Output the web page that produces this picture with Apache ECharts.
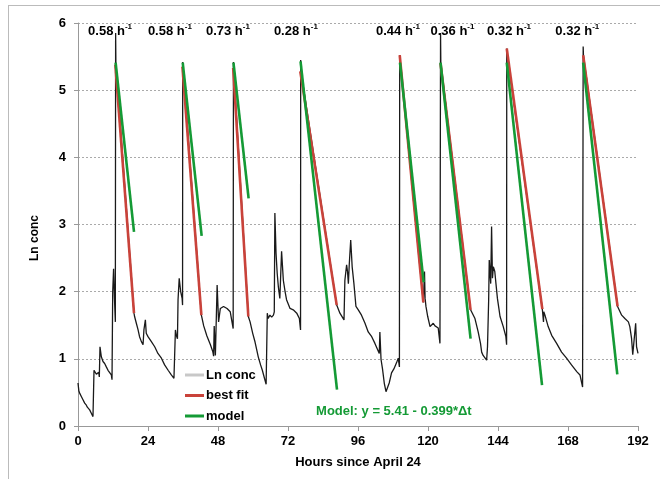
<!DOCTYPE html>
<html>
<head>
<meta charset="utf-8">
<script src="https://cdn.jsdelivr.net/npm/echarts@6/dist/echarts.min.js"></script>
<style>
	html, body { margin: 0; padding: 0; background: #fff; }
	#chart { width: 660px; height: 479px; }
</style>
</head>
<body>
<div id="chart"></div>
<script>
// Ln conc trace [hours, ln conc]
var lnConc = [
	[0,0.64],[0.3,0.52],[0.57,0.49],[0.9,0.47],[1.14,0.44],[1.4,0.42],[1.71,0.39],[2.0,0.37],[2.29,0.34],[2.6,0.33],
	[2.86,0.31],[3.2,0.28],[3.43,0.29],[3.7,0.26],[4.0,0.24],[4.3,0.23],[4.57,0.19],[4.9,0.18],[5.14,0.14],[5.4,0.12],
	[5.49,0.83],[5.94,0.81],[6.3,0.77],[6.63,0.76],[7.09,0.80],[7.31,0.73],[7.54,1.18],[8.0,1.03],[8.57,0.96],[9.14,0.93],
	[9.71,0.88],[10.29,0.83],[10.86,0.81],[11.43,0.76],[11.66,0.69],[11.9,2.0],[12.2,2.34],[12.5,1.9],[12.8,1.55],[12.9,5.85],
	[13.0,5.38],[19.2,1.68],
	[19.4,1.63],[20.0,1.53],[20.6,1.43],[21.1,1.33],[21.7,1.26],[22.3,1.21],[22.6,1.43],[23.1,1.58],[23.4,1.38],[24.0,1.33],
	[25.1,1.26],[26.3,1.18],[27.4,1.08],[28.6,1.01],[29.7,0.91],[30.9,0.83],[32.0,0.76],[32.9,0.71],[33.4,1.43],[33.7,1.35],
	[34.1,1.30],[34.3,1.88],[34.7,2.2],[35.2,2.0],[35.7,1.9],[35.85,1.8],[35.9,5.42],[36.0,5.35],[42.3,1.65],
	[43.1,1.49],[44.2,1.34],[45.4,1.21],[46.2,1.11],[46.5,1.04],[46.7,1.49],[47.1,1.05],[47.7,2.1],[48.2,1.55],[48.8,1.75],
	[49.9,1.78],[51.1,1.75],[52.2,1.70],[53.2,1.45],[53.3,5.42],[53.4,5.3],[58.4,1.63],
	[59.0,1.55],[59.9,1.38],[60.7,1.25],[61.3,1.13],[61.8,1.03],[62.6,0.91],[63.2,0.83],[64.0,0.70],[64.5,0.62],[64.9,1.68],
	[65.2,1.60],[65.8,1.65],[66.4,1.62],[67.0,1.65],[67.3,1.70],[67.5,3.17],[67.9,2.57],[68.3,2.27],[68.7,2.07],[69.2,1.90],
	[69.8,2.6],[70.4,2.17],[71.0,2.0],[71.5,1.88],[72.7,1.75],[73.8,1.73],[75.0,1.68],[75.9,1.60],[76.3,1.43],[76.35,5.45],
	[76.45,5.28],[88.7,1.80],
	[89.8,1.68],[91.2,1.58],[91.5,2.17],[92.1,2.4],[92.4,2.3],[92.7,2.12],[93.0,2.4],[93.5,2.77],[94.0,2.37],[94.6,2.12],
	[95.3,1.78],[96.1,1.73],[97.2,1.65],[98.4,1.53],[99.5,1.40],[100.7,1.33],[101.8,1.23],[103.3,1.08],[103.5,1.40],[103.9,0.99],
	[104.4,0.85],[105.0,0.64],[105.6,0.51],[106.0,0.49],[106.7,0.64],[107.5,0.79],[108.3,0.85],[109.2,0.94],[109.8,1.01],[110.2,0.88],
	[110.3,5.52],[110.4,5.45],[118.4,1.84],
	[118.8,2.3],[119.0,1.9],[119.3,1.78],[119.9,1.63],[120.7,1.48],[121.2,1.48],[121.8,1.53],[122.4,1.49],[123.0,1.51],[123.5,1.46],
	[124.1,1.23],[124.3,5.85],[124.4,5.4],[134.6,1.73],
	[135.0,1.73],[136.1,1.60],[137.2,1.40],[138.0,1.23],[138.4,1.10],[138.9,1.05],[139.5,1.03],[140.1,0.98],[140.4,1.18],[140.8,1.88],
	[141.0,2.47],[141.5,2.12],[141.8,2.97],[142.1,2.2],[142.4,2.37],[142.9,2.3],[143.3,2.12],[143.8,1.9],[144.3,1.75],[144.7,1.63],
	[145.8,1.48],[146.7,1.33],[146.95,1.21],[147.0,5.62],[147.1,5.55],[159.2,1.74],
	[159.6,1.55],[159.7,1.70],[160.1,1.65],[161.2,1.48],[162.4,1.35],[164.1,1.23],[165.8,1.10],[167.5,1.01],[169.2,0.91],[171.0,0.81],
	[172.1,0.76],[173.0,0.58],[173.2,5.65],[173.3,5.52],[185.0,1.78],
	[185.2,1.76],[186.4,1.65],[187.5,1.60],[188.1,1.62],[188.7,1.55],[189.2,1.48],[189.8,1.30],[190.2,1.06],[190.6,1.25],[191.2,1.53],
	[191.5,1.18],[192.0,1.08]
]

// best fit lines: start / end [hours, ln conc]
var fitStart = [[12.8,5.38],[35.8,5.35],[53.2,5.33],[76.2,5.28],[110.3,5.52],[124.3,5.40],[147.0,5.62],[173.2,5.52]]
var fitEnd   = [[19.2,1.68],[42.3,1.65],[58.4,1.63],[88.7,1.80],[118.4,1.84],[134.6,1.73],[159.2,1.74],[185.0,1.78]]

// model lines: start / end
var modelStart = [[12.9,5.41],[35.9,5.41],[53.3,5.41],[76.3,5.43],[110.4,5.41],[124.3,5.41],[147.0,5.41],[173.2,5.41]]
var modelEnd   = [[19.2,2.89],[42.4,2.83],[58.5,3.39],[88.8,0.54],[118.5,2.14],[134.6,1.30],[159.1,0.61],[184.9,0.77]]

// rate labels (h^-1) and where they sit
var rates  = ['0.58', '0.58', '0.73', '0.28', '0.44', '0.36', '0.32', '0.32']
var rateX  = [11, 31.5, 51.4, 74.7, 109.7, 128.4, 147.8, 171.2]
var rateY  = 5.88

var xTicks = { min: 0, max: 192, interval: 24 }
var yTicks = { min: 0, max: 6, interval: 1 }

var RED = '#c9423a'
var GREEN = '#149a35'
var FONT = 'Arial, "Liberation Sans", sans-serif'

var chart = echarts.init(document.getElementById('chart'), null, { renderer: 'canvas' })

var series = []

// 实测曲线
series.push({
	name: 'Ln conc',
	type: 'line',
	data: lnConc,
	symbol: 'none',
	z: 2,
	lineStyle: { color: '#1a1a1a', width: 1.3 }
})

// 拟合线
for (var i = 0; i < fitStart.length; i++) {
	series.push({
		name: 'best fit',
		type: 'line',
		data: [fitStart[i], fitEnd[i]],
		symbol: 'none',
		z: 3,
		lineStyle: { color: RED, width: 2.6 },
		itemStyle: { color: RED }
	})
}

// 模型线
for (var j = 0; j < modelStart.length; j++) {
	series.push({
		name: 'model',
		type: 'line',
		data: [modelStart[j], modelEnd[j]],
		symbol: 'none',
		z: 4,
		lineStyle: { color: GREEN, width: 2.6 },
		itemStyle: { color: GREEN }
	})
}

// 速率标签
series.push({
	name: 'rates',
	type: 'scatter',
	symbolSize: 1,
	z: 6,
	itemStyle: { color: 'transparent', opacity: 1 },
	data: rates.map(function (r, k) { return [rateX[k], rateY, r] }),
	label: {
		show: true,
		position: 'inside',
		opacity: 1,
		formatter: function (p) { return '{b|' + p.value[2] + ' h}{s|-1}' },
		rich: {
			b: { fontFamily: FONT, fontWeight: 'bold', fontSize: 13, color: '#000', lineHeight: 16 },
			s: { fontFamily: FONT, fontWeight: 'bold', fontSize: 8, color: '#000', lineHeight: 9, verticalAlign: 'top' }
		}
	}
})

// 模型公式
series.push({
	name: 'note',
	type: 'scatter',
	symbolSize: 1,
	z: 6,
	itemStyle: { color: 'transparent', opacity: 1 },
	data: [[108.3, 0.22]],
	label: {
		show: true,
		position: 'inside',
		opacity: 1,
		formatter: 'Model: y = 5.41 - 0.399*Δt',
		fontFamily: FONT, fontWeight: 'bold', fontSize: 13, color: GREEN
	}
})

var option = {}
option.animation = false
option.backgroundColor = '#fff'

option.grid = { left: 78, right: 22, top: 23, bottom: 53 }

option.legend = {
	orient: 'vertical',
	left: 180,
	top: 363,
	icon: 'rect',
	itemWidth: 19,
	itemHeight: 3,
	itemGap: 6.5,
	textStyle: { fontFamily: FONT, fontWeight: 'bold', fontSize: 13, color: '#000', lineHeight: 14, padding: [0, 0, 0, -3] },
	data: [
		{ name: 'Ln conc', itemStyle: { color: '#c8c8c8' } },
		{ name: 'best fit', itemStyle: { color: RED } },
		{ name: 'model', itemStyle: { color: GREEN } }
	]
}

option.xAxis = {
	type: 'value',
	min: xTicks.min,
	max: xTicks.max,
	interval: xTicks.interval,
	name: 'Hours since April 24',
	nameLocation: 'middle',
	nameGap: 30,
	nameTextStyle: { fontFamily: FONT, fontWeight: 'bold', fontSize: 13, color: '#000' },
	axisLine: { lineStyle: { color: '#999' } },
	axisTick: { show: true, length: 5, lineStyle: { color: '#999' } },
	axisLabel: { fontFamily: FONT, fontWeight: 'bold', fontSize: 13, color: '#000', margin: 9 },
	splitLine: { show: false }
}

option.yAxis = {
	type: 'value',
	min: yTicks.min,
	max: yTicks.max,
	interval: yTicks.interval,
	axisLine: { show: true, lineStyle: { color: '#999' } },
	axisTick: { show: true, length: 4, lineStyle: { color: '#999' } },
	axisLabel: { fontFamily: FONT, fontWeight: 'bold', fontSize: 13, color: '#000', margin: 12 },
	splitLine: { show: true, lineStyle: { color: '#aaa', type: [2, 2], width: 1 } }
}

option.graphic = [{
	type: 'line',
	shape: { x1: 8, y1: 5.5, x2: 660, y2: 5.5 },
	style: { stroke: '#bbb', lineWidth: 1 }
}, {
	type: 'line',
	shape: { x1: 8.5, y1: 5, x2: 8.5, y2: 479 },
	style: { stroke: '#bbb', lineWidth: 1 }
}, {
	type: 'text',
	x: 35,
	y: 238,
	rotation: Math.PI / 2,
	style: {
		text: 'Ln conc',
		font: 'bold 12px ' + FONT,
		fill: '#000',
		align: 'center',
		verticalAlign: 'middle'
	}
}]

option.series = series

chart.setOption(option)
</script>
</body>
</html>
